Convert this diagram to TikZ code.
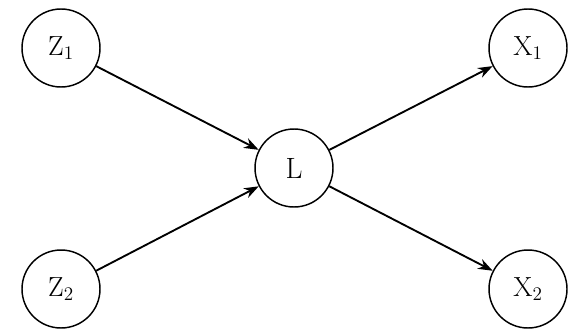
\documentclass[tikz,border=0pt]{standalone}
\usetikzlibrary{arrows.meta}
\begin{document}
\begin{tikzpicture}[x=0.75pt,y=-0.75pt,
  var/.style={draw,circle,minimum size=78*0.75pt,inner sep=0pt,line width=1.1pt,font=\fontsize{22}{26}\selectfont},
  edge/.style={line width=1.4pt,-{Stealth[length=11pt,width=8pt]}}]
\useasboundingbox (0,0) rectangle (580,332);
\node[var] (z1) at (61,48) {$\mathrm{Z}_1$};
\node[var] (z2) at (61,289) {$\mathrm{Z}_2$};
\node[var] (l) at (294,168) {L};
\node[var] (x1) at (528,48) {$\mathrm{X}_1$};
\node[var] (x2) at (528,289) {$\mathrm{X}_2$};
\draw[edge] (z1) -- (l);
\draw[edge] (z2) -- (l);
\draw[edge] (l) -- (x1);
\draw[edge] (l) -- (x2);
\end{tikzpicture}
\end{document}
